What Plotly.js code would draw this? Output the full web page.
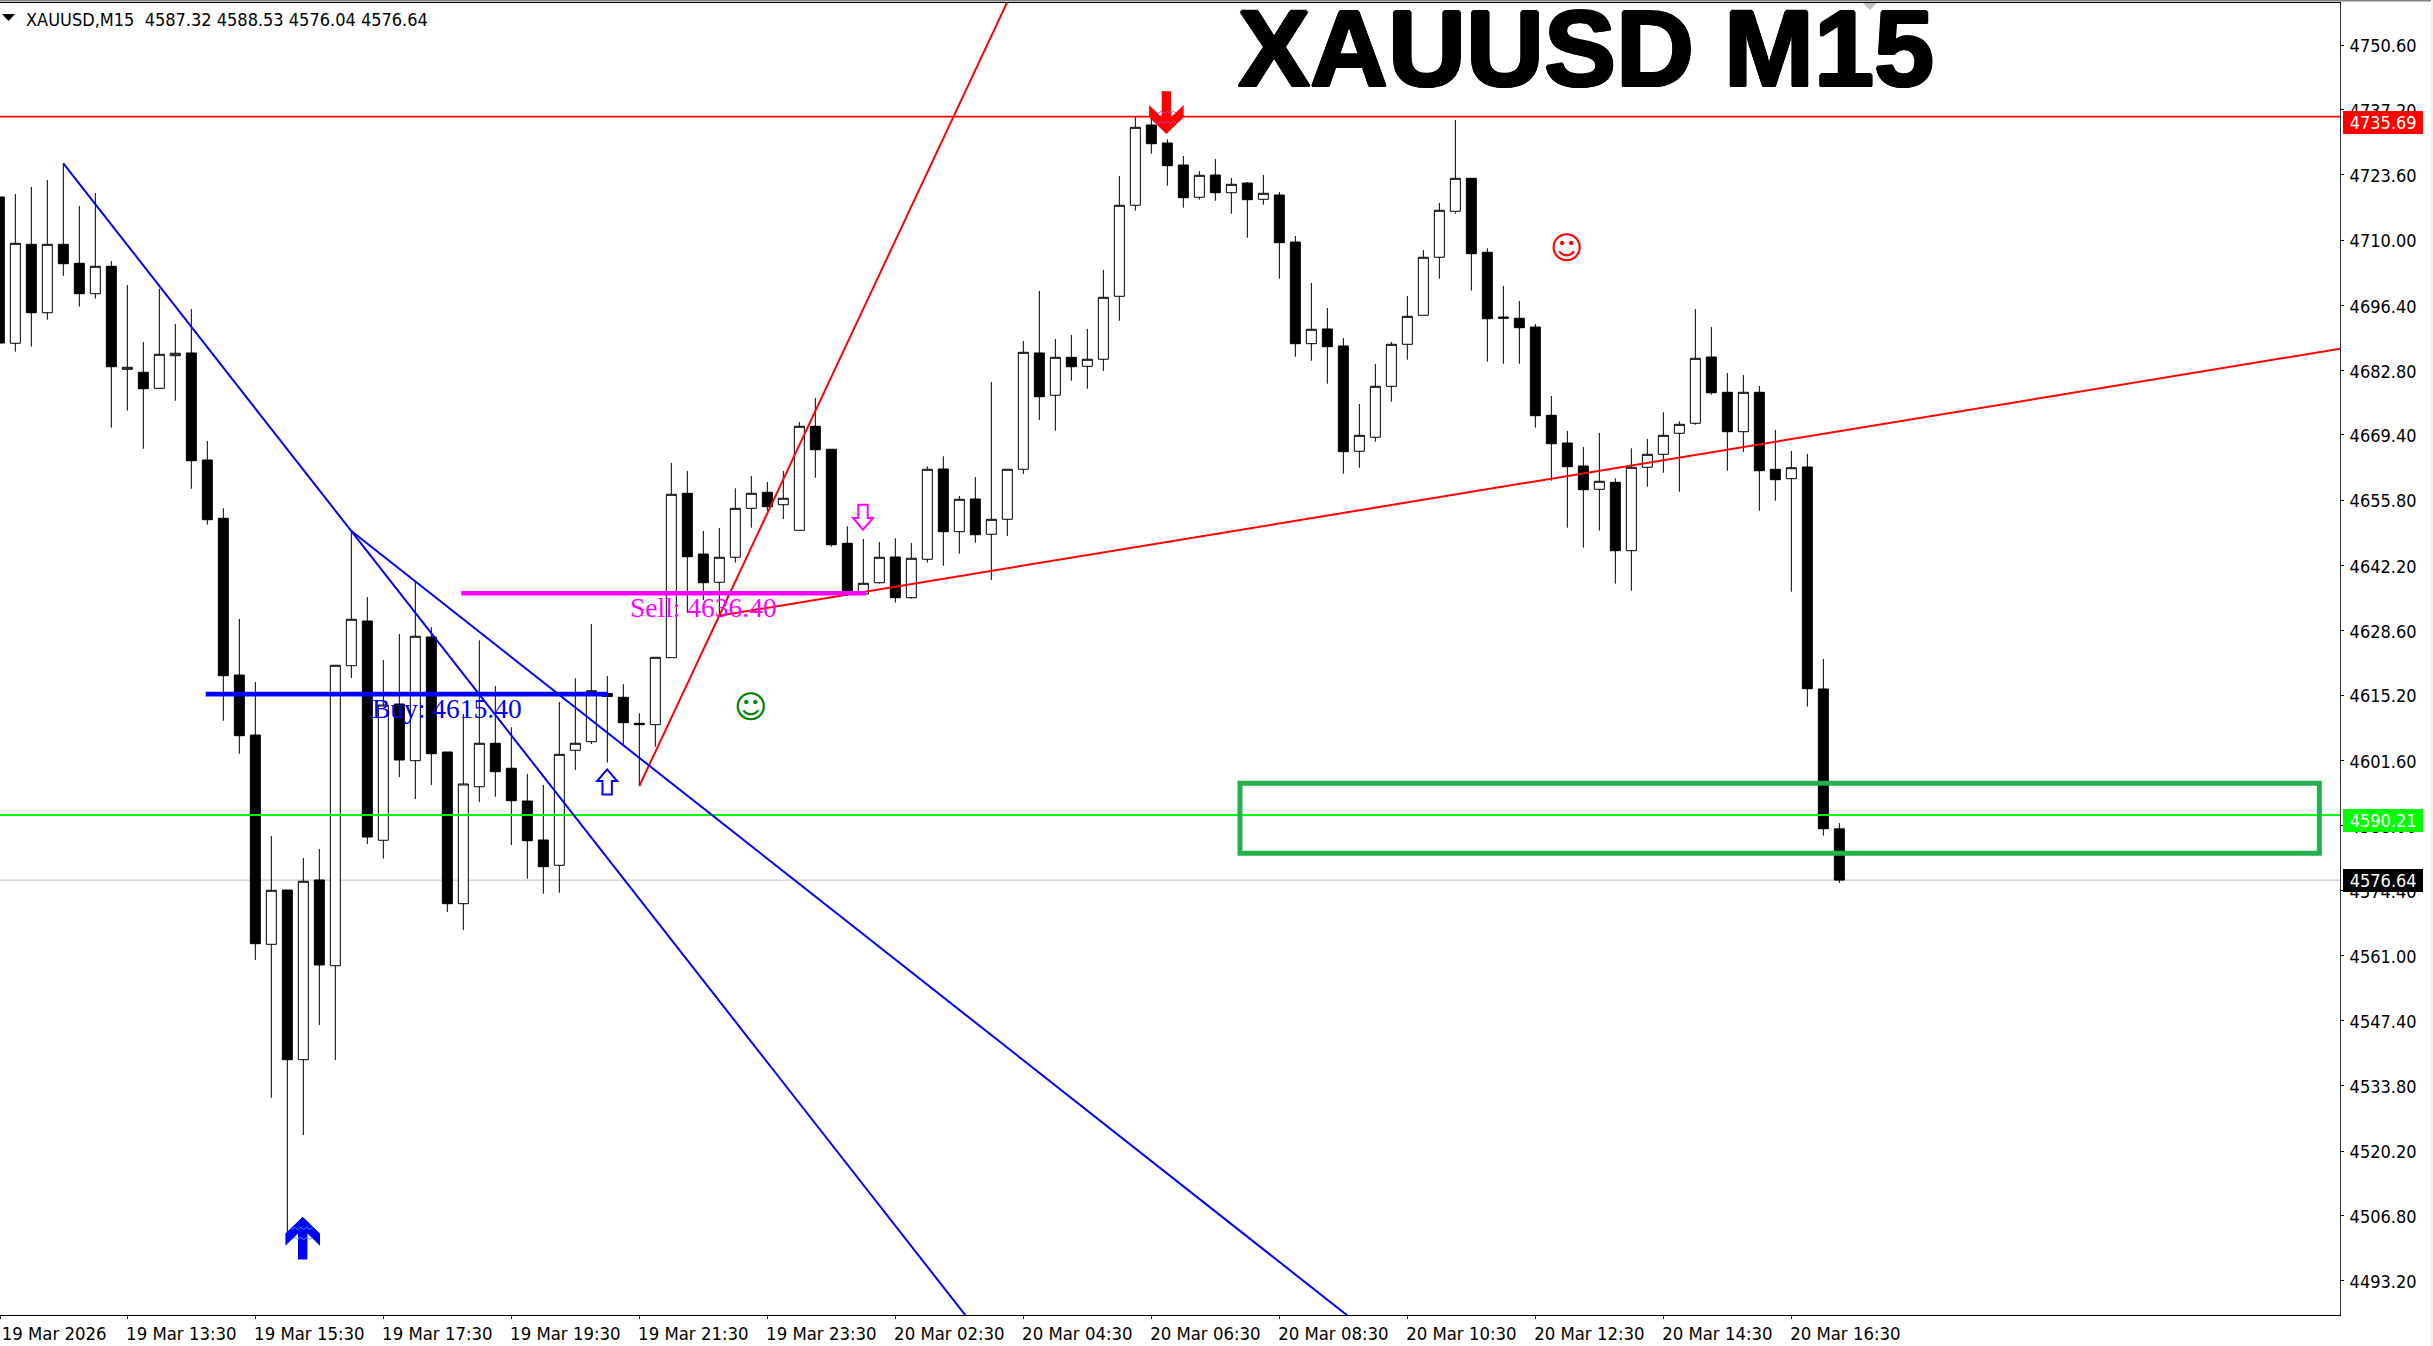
<!DOCTYPE html>
<html><head><meta charset="utf-8"><title>XAUUSD M15</title>
<script src="https://cdn.plot.ly/plotly-3.0.1.min.js"></script>
<style>html,body{margin:0;padding:0;background:#fff;overflow:hidden}#chart{width:2433px;height:1346px}</style>
</head><body><div id="chart"></div>
<script>
const open_ = [4718.96,4688.48,4709.10,4694.85,4709.10,4705.15,4698.81,4704.52,4683.06,4682.44,4679.10,4685.90,4686.46,4664.17,4652.02,4619.37,4606.87,4563.27,4574.58,4539.23,4576.67,4558.81,4621.31,4630.62,4584.94,4613.33,4601.52,4627.29,4603.33,4571.73,4596.10,4605.15,4599.94,4593.12,4585.00,4579.73,4603.69,4605.48,4615.52,4614.73,4609.31,4609.02,4622.98,4657.23,4644.58,4638.69,4643.90,4654.10,4657.44,4654.85,4649.52,4671.19,4666.40,4646.81,4636.25,4638.60,4643.96,4635.48,4643.48,4662.29,4649.23,4656.04,4648.69,4651.81,4662.23,4686.46,4677.65,4685.56,4683.69,4685.15,4698.27,4717.23,4733.96,4730.21,4725.62,4718.90,4723.54,4719.85,4721.87,4718.48,4719.37,4709.58,4688.40,4691.46,4687.92,4665.98,4668.90,4679.52,4688.27,4694.31,4706.40,4715.98,4722.85,4707.44,4693.96,4693.69,4691.87,4673.48,4667.71,4662.92,4658.06,4659.52,4645.27,4662.65,4665.35,4669.73,4671.81,4685.62,4678.27,4670.06,4678.27,4662.23,4660.27,4662.71,4616.46,4587.32];
const high = [4720.42,4719.58,4721.04,4722.50,4725.98,4717.08,4719.79,4705.62,4700.62,4688.75,4699.85,4692.50,4695.62,4668.12,4654.10,4631.04,4617.92,4585.83,4574.58,4581.25,4583.12,4621.40,4649.37,4635.62,4622.50,4627.92,4638.81,4629.31,4603.33,4611.25,4626.60,4617.08,4608.48,4598.75,4596.46,4613.75,4618.69,4630.00,4619.17,4617.44,4611.40,4623.06,4663.54,4661.87,4649.37,4650.00,4658.27,4660.83,4659.58,4661.87,4672.08,4677.08,4666.40,4650.35,4647.71,4647.08,4647.85,4646.87,4662.85,4664.94,4656.67,4660.62,4680.42,4662.23,4688.96,4699.37,4689.37,4690.21,4691.46,4703.75,4723.33,4735.69,4735.60,4731.00,4727.50,4724.37,4726.87,4722.92,4722.08,4723.54,4720.00,4710.83,4701.04,4695.83,4689.58,4675.83,4684.17,4688.75,4698.33,4707.92,4717.71,4735.00,4722.85,4708.27,4700.42,4697.29,4692.50,4677.50,4670.21,4666.87,4669.79,4660.35,4666.60,4668.54,4674.10,4672.23,4695.62,4691.87,4682.29,4681.87,4679.58,4670.42,4666.04,4665.42,4622.71,4588.53];
const low = [4687.08,4686.73,4687.77,4693.40,4702.56,4696.10,4697.77,4670.90,4674.44,4666.52,4679.10,4676.52,4658.19,4650.69,4609.85,4602.98,4560.00,4531.31,4503.33,4523.54,4546.46,4539.17,4618.75,4584.17,4581.10,4598.12,4593.54,4596.46,4570.00,4566.25,4592.92,4594.02,4583.96,4576.94,4573.81,4574.02,4599.58,4605.00,4601.10,4604.79,4596.25,4604.44,4622.98,4632.29,4635.00,4631.73,4642.77,4650.06,4653.54,4651.87,4649.52,4660.48,4646.10,4636.87,4636.04,4638.40,4634.44,4635.27,4642.77,4642.15,4644.65,4646.94,4639.17,4648.33,4661.25,4672.50,4670.27,4680.69,4679.02,4682.71,4693.19,4716.10,4727.98,4721.31,4716.73,4718.40,4718.19,4715.48,4710.48,4717.35,4701.94,4685.69,4684.85,4680.06,4661.31,4662.56,4667.98,4676.31,4685.06,4694.31,4701.94,4715.48,4699.44,4684.65,4684.23,4684.23,4670.90,4659.85,4650.06,4645.90,4649.44,4638.40,4636.94,4658.60,4661.52,4657.56,4671.52,4677.77,4661.94,4665.83,4653.60,4655.69,4636.73,4612.77,4585.90,4576.04];
const close_ = [4688.54,4709.31,4694.85,4709.10,4705.06,4698.81,4704.52,4683.60,4683.48,4679.02,4686.19,4686.40,4664.02,4651.73,4619.23,4606.73,4563.40,4574.52,4539.23,4576.40,4558.96,4621.40,4630.98,4585.62,4613.12,4601.67,4627.44,4602.98,4571.73,4596.67,4605.15,4599.23,4593.19,4584.85,4579.44,4602.85,4605.15,4616.10,4614.90,4609.44,4609.02,4623.06,4657.02,4644.02,4638.60,4643.90,4654.10,4657.23,4654.44,4656.19,4671.19,4666.31,4646.52,4636.87,4638.48,4643.90,4635.48,4643.69,4662.23,4649.23,4655.98,4648.60,4651.81,4662.23,4686.60,4677.35,4685.56,4683.60,4685.15,4698.06,4717.23,4733.48,4730.06,4725.48,4718.81,4723.48,4719.85,4721.60,4718.40,4719.73,4709.44,4688.40,4691.40,4687.77,4665.90,4669.31,4679.52,4688.27,4694.10,4706.40,4716.19,4722.85,4707.15,4693.60,4693.69,4691.73,4673.40,4667.56,4662.77,4657.98,4659.73,4645.27,4662.65,4665.35,4669.31,4671.60,4685.35,4678.19,4670.06,4678.27,4661.94,4660.06,4662.56,4616.52,4587.35,4576.64];

const priceTicks = [4750.60,4737.20,4723.60,4710.00,4696.40,4682.80,4669.40,4655.80,4642.20,4628.60,4615.20,4601.60,4588.00,4574.40,4561.00,4547.40,4533.80,4520.20,4506.80,4493.20];
const timeTickPos = [0.05,8,16,24,32,40,48,56,64,72,80,88,96,104,112];
const timeTickText = ['19 Mar 2026','19 Mar 13:30','19 Mar 15:30','19 Mar 17:30','19 Mar 19:30','19 Mar 21:30','19 Mar 23:30','20 Mar 02:30','20 Mar 04:30','20 Mar 06:30','20 Mar 08:30','20 Mar 10:30','20 Mar 12:30','20 Mar 14:30','20 Mar 16:30'];

const blueRayAX = [4,61.1],  blueRayAY = [4725.98,4482.92];
const blueRayBX = [22,85.4], blueRayBY = [4649.37,4482.92];
const redRayAX = [40,63.35], redRayAY = [4596.25,4762.08];
const redRayBX = [45,147],   redRayBY = [4631.73,4687.73];
const buyX = [12.9,38.04],   buyPrice = 4615.40;
const sellX = [28.87,54.15], sellPrice = 4636.40;
const resistance = 4735.69, support = 4590.21, bid = 4576.64;
const zoneX = [77.54,145.0], zoneY = [4582.23,4596.81];

const F = '"DejaVu Sans Condensed","Noto Sans",sans-serif';
const XR = [0.0417,146.29], YR = [4486.04,4759.375];
const paperY = px => (1315-px)/1312;
const paperX = px => px/2340;

function ray(x,y,color,w){return {type:'scatter',mode:'lines',x:x,y:y,line:{color:color,width:w,shape:'linear'},hoverinfo:'skip',showlegend:false};}
const traces = [
 {type:'candlestick',x:open_.map((_,i)=>i),open:open_,high:high,low:low,close:close_,whiskerwidth:0,
  increasing:{line:{color:'#000',width:1},fillcolor:'#fff'},
  decreasing:{line:{color:'#000',width:1},fillcolor:'#000'},hoverinfo:'skip',showlegend:false},
 ray([XR[0],XR[1]],[resistance,resistance],'#ff0000',1.8),
 ray([XR[0],XR[1]],[support,support],'#00ff00',1.8),
 ray(redRayAX,redRayAY,'#ff0000',2),
 ray(redRayBX,redRayBY,'#ff0000',2),
 ray(blueRayAX,blueRayAY,'#0000ff',2),
 ray(blueRayBX,blueRayBY,'#0000ff',2),
 ray(buyX,[buyPrice,buyPrice],'#0000ff',4.6),
 ray(sellX,[sellPrice,sellPrice],'#ff00ff',4.6)
];

function pathOf(pts,closed){return 'M'+pts.map(p=>p[0]+','+p[1]).join('L')+(closed?'Z':'');}
function glyph(ix,price,pts,opts,flip,closed){
  const q = flip?pts.map(p=>[p[0],-p[1]]):pts;
  return Object.assign({type:'path',xref:'x',yref:'y',xsizemode:'pixel',ysizemode:'pixel',xanchor:ix,yanchor:price,path:pathOf(q,closed),layer:'above'},opts);
}
const boldArrow = [[0,21.7],[-17.3,5],[-17.3,-7.3],[-4.7,5],[-4.7,-21],[4.7,-21],[4.7,5],[17.3,-7.3],[17.3,5]];
const zigA = [[-11,9],[-8,11],[-5,9],[-2,11],[1,9],[4,11],[7,9],[10,11]];
const zigB = [[-11,-1],[-8,1],[-5,-1],[-2,1],[1,-1],[4,1],[7,-1],[10,1]];
const hollowArrow = [[0,12.5],[-10,0.8],[-4.7,0.8],[-4.7,-12.5],[4.7,-12.5],[4.7,0.8],[10,0.8]];

const shapes = [
 {type:'line',xref:'paper',yref:'y',x0:0,x1:1,y0:bid,y1:bid,line:{color:'#c0c0c0',width:1},layer:'below'},
 {type:'rect',xref:'x',yref:'y',x0:zoneX[0],x1:zoneX[1],y0:zoneY[0],y1:zoneY[1],line:{color:'#22b14c',width:5},fillcolor:'rgba(0,0,0,0)',layer:'above'},
 glyph(18.96,4502.0,boldArrow,{fillcolor:'#0000ff',line:{width:0}},false,true),
 glyph(18.96,4502.0,zigA,{line:{color:'#3399ff',width:1}},false,false),
 glyph(18.96,4502.0,zigB,{line:{color:'#3399ff',width:1}},false,false),
 glyph(72.94,4736.6,boldArrow,{fillcolor:'#ff0000',line:{width:0}},true,true),
 glyph(72.94,4736.6,zigA,{line:{color:'#c040c0',width:1}},true,false),
 glyph(72.94,4736.6,zigB,{line:{color:'#c040c0',width:1}},true,false),
 glyph(37.99,4597.1,hollowArrow,{fillcolor:'#fff',line:{color:'#0000ff',width:2}},false,true),
 glyph(53.98,4652.25,hollowArrow,{fillcolor:'#fff',line:{color:'#ff00ff',width:2}},true,true),
 // chart chrome
 {type:'path',xref:'x',yref:'paper',xsizemode:'pixel',ysizemode:'pixel',xanchor:XR[0],yanchor:1,path:'M2,-11L15,-11L8.5,-18Z',fillcolor:'#000',line:{width:0},layer:'above'},
 {type:'path',xref:'x',yref:'paper',xsizemode:'pixel',ysizemode:'pixel',xanchor:116.9,yanchor:1,path:'M-7,0L7,0L0,-7Z',fillcolor:'#c0c0c0',line:{width:0},layer:'above'},
 {type:'rect',xref:'paper',yref:'paper',x0:0,x1:paperX(2433),y0:paperY(0),y1:paperY(1.5),fillcolor:'#808080',line:{width:0},layer:'above'},
 {type:'rect',xref:'paper',yref:'paper',x0:paperX(2431),x1:paperX(2433),y0:paperY(1346),y1:paperY(0),fillcolor:'#f0f0f0',line:{width:0},layer:'above'}
];

const tickFont = {family:F,size:18,color:'#000'};
function priceBox(val,bg,shift){return {xref:'paper',yref:'y',x:paperX(2382.5),y:val,yshift:shift,text:val.toFixed(2),xanchor:'center',yanchor:'middle',showarrow:false,
  font:{family:F,size:18,color:'#fff'},bgcolor:bg,width:80.4,height:22.7,borderpad:0,borderwidth:0,align:'center',valign:'middle'};}
const annotations = [
 {xref:'paper',yref:'paper',x:paperX(1237),y:paperY(48),text:'<b>XAUUSD M15</b>',xanchor:'left',yanchor:'middle',showarrow:false,borderpad:0,height:86,valign:'middle',
  font:{family:'"Liberation Sans",Arial,sans-serif',size:108,color:'#000',
        shadow:'1.5px 0 0 #000,-1.5px 0 0 #000,0 1.5px 0 #000,0 -1.5px 0 #000,1px 1px 0 #000,-1px -1px 0 #000,1px -1px 0 #000,-1px 1px 0 #000'}},
 {xref:'paper',yref:'paper',x:paperX(25),y:paperY(19),text:'XAUUSD,M15\u00a0\u00a04587.32 4588.53 4576.04 4576.64',xanchor:'left',yanchor:'middle',showarrow:false,borderpad:0,
  font:tickFont},
 {xref:'x',yref:'y',x:23.25,y:4612.4,text:'Buy: 4615.40',xanchor:'left',yanchor:'middle',showarrow:false,borderpad:0,
  font:{family:'"Liberation Serif",serif',size:27.5,color:'#0000ff'}},
 {xref:'x',yref:'y',x:39.38,y:4633.5,text:'Sell: 4636.40',xanchor:'left',yanchor:'middle',showarrow:false,borderpad:0,
  font:{family:'"Liberation Serif",serif',size:27.5,color:'#ff00ff'}},
 {xref:'x',yref:'y',x:46.96,y:4612.7,text:'☺',xanchor:'center',yanchor:'middle',showarrow:false,borderpad:0,
  font:{family:'"DejaVu Sans",sans-serif',size:32,color:'#008000'}},
 {xref:'x',yref:'y',x:97.94,y:4708.4,text:'☺',xanchor:'center',yanchor:'middle',showarrow:false,borderpad:0,
  font:{family:'"DejaVu Sans",sans-serif',size:32,color:'#ff0000'}},
 priceBox(resistance,'#ff0000',-5.6),
 priceBox(support,'#00ff00',-5.6),
 priceBox(bid,'#000000',-0.5)
];

const layout = {
  width:2433,height:1346,autosize:false,
  margin:{l:0,r:93,t:3,b:31,pad:0},
  paper_bgcolor:'#fff',plot_bgcolor:'#fff',
  showlegend:false,hovermode:false,dragmode:false,
  boxgap:0.375,boxgroupgap:0,boxmode:'overlay',
  xaxis:{type:'linear',range:XR,autorange:false,rangeslider:{visible:false},fixedrange:true,showgrid:false,zeroline:false,
    showline:true,linecolor:'#000',linewidth:1,mirror:true,ticks:'outside',ticklen:3,tickwidth:1,tickcolor:'#000',
    tickmode:'array',tickvals:timeTickPos,ticktext:timeTickText,tickangle:0,tickfont:{family:F,size:18.4,color:'#000'},ticklabelshift:54,ticklabeloverflow:'allow',ticklabelstandoff:-1},
  yaxis:{type:'linear',side:'right',range:YR,autorange:false,fixedrange:true,showgrid:false,zeroline:false,
    showline:true,linecolor:'#303030',linewidth:1,ticks:'outside',ticklen:3,tickwidth:1,tickcolor:'#000',
    tickmode:'array',tickvals:priceTicks,ticktext:priceTicks.map(v=>v.toFixed(2)),tickfont:tickFont,ticklabeloverflow:'allow',ticklabelstandoff:2,ticklabelshift:1},
  shapes:shapes,annotations:annotations
};
Plotly.newPlot('chart',traces,layout,{displayModeBar:false,staticPlot:true,responsive:false});
</script></body></html>
